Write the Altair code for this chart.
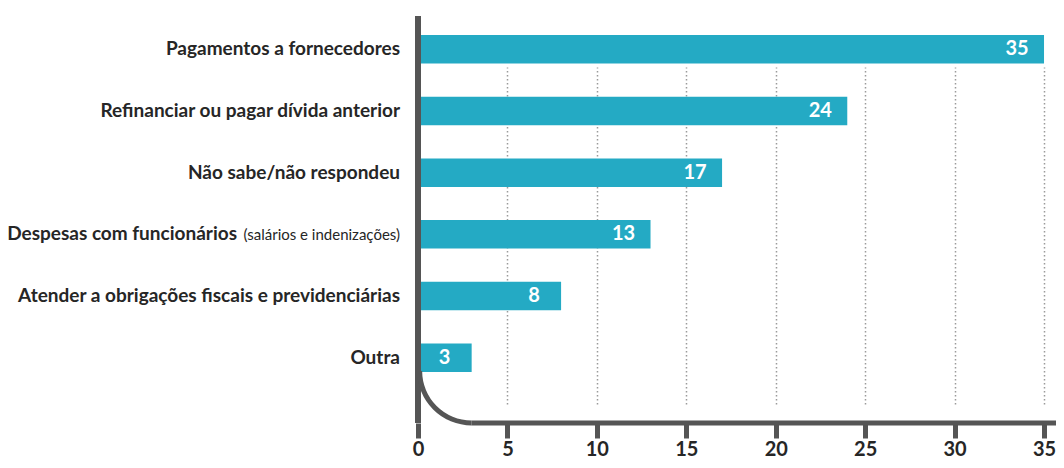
import math
import altair as alt
import pandas as pd

categories = [
    "Pagamentos a fornecedores",
    "Refinanciar ou pagar dívida anterior",
    "Não sabe/não respondeu",
    "Despesas com funcionários",
    "Atender a obrigações fiscais e previdenciárias",
    "Outra",
]
notes = ["", "", "", "(salários e indenizações)", "", ""]
values = [35, 24, 17, 13, 8, 3]
tick_values = [0, 5, 10, 15, 20, 25, 30, 35]

df = pd.DataFrame({"cat": categories, "note": notes, "value": values})
one = pd.DataFrame({"a": [0]})

FONT = "Lato, sans-serif"
BAR = "#24aac4"
AX = "#555555"
TXT = "#262626"
W, H = 638, 407
XMAX = 35.67
R = 52

xscale = alt.Scale(domain=[0, XMAX], nice=False, zero=True)
yscale = alt.Scale(domain=categories, range=[19, 356], paddingInner=0.537, paddingOuter=0)

xaxis = alt.Axis(
    values=tick_values, domain=False, grid=True, gridColor="#9a9a9a", gridDash=[1.5, 2.5],
    gridWidth=1.5, ticks=True, tickSize=15, tickWidth=5, tickColor=AX, labelFont=FONT,
    labelFontSize=20, labelFontWeight="bold", labelColor=TXT, labelPadding=1, title=None,
    labelFlush=False,
)

base = alt.Chart(df)

bars = base.mark_bar(color=BAR).encode(
    x=alt.X("value:Q", scale=xscale, axis=xaxis),
    y=alt.Y("cat:N", scale=yscale, axis=None, sort=categories),
)

vals = base.mark_text(align="center", baseline="middle", dx=-27, color="white",
                      fontWeight="bold", fontSize=20, font=FONT).encode(
    x="value:Q", y=alt.Y("cat:N", sort=categories), text="value:Q")

labels_plain = base.transform_filter("datum.note == ''").mark_text(
    align="right", baseline="middle", fontWeight="bold", fontSize=19, font=FONT, color=TXT
).encode(x=alt.value(-18), y=alt.Y("cat:N", sort=categories), text="cat:N")

labels_main = base.transform_filter("datum.note != ''").mark_text(
    align="right", baseline="middle", fontWeight="bold", fontSize=19, font=FONT, color=TXT
).encode(x=alt.value(-181), y=alt.Y("cat:N", sort=categories), text="cat:N")

labels_note = base.transform_filter("datum.note != ''").mark_text(
    align="right", baseline="middle", fontWeight="normal", fontSize=15, font=FONT, color=TXT, dy=1
).encode(x=alt.value(-18), y=alt.Y("cat:N", sort=categories), text="note:N")

vline = alt.Chart(one).mark_rule(color=AX, strokeWidth=6).encode(
    x=alt.datum(0), y=alt.value(0), y2=alt.value(H))

hline = alt.Chart(one).mark_rule(color=AX, strokeWidth=5).encode(
    x=alt.datum(3), x2=alt.datum(XMAX), y=alt.value(H))

curve = alt.Chart(one).mark_arc(
    radius=R + 2.5, radius2=R - 2.5, theta=math.pi, theta2=1.5 * math.pi, color=AX
).encode(x=alt.datum(3), y=alt.value(H - R))

chart = alt.layer(bars, vals, labels_plain, labels_main, labels_note, vline, hline, curve).properties(
    width=W, height=H,
    autosize=alt.AutoSizeParams(type="none"),
    padding={"left": 410, "top": 8, "right": 0, "bottom": 37},
).configure_view(stroke=None)

chart.save("out.html", embed_options={"renderer": "svg", "actions": False})
